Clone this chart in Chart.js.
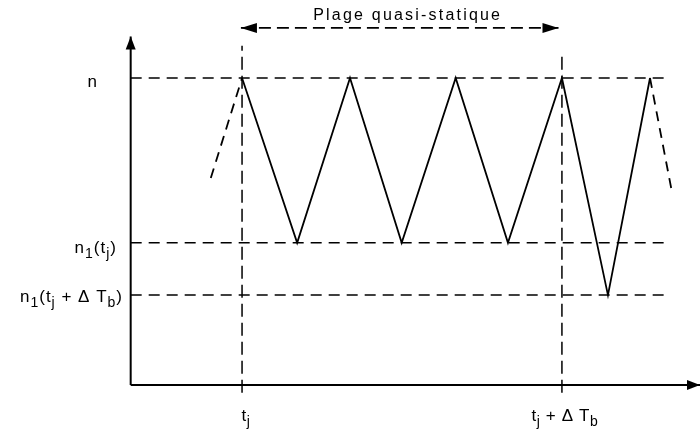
<!DOCTYPE html>
<html lang="fr">
<head>
    <meta charset="UTF-8">
    <title>Plage quasi-statique</title>
    <script src="https://cdn.jsdelivr.net/npm/chart.js"></script>
    <style>
        body { margin: 0; background: #fff; }
    </style>
</head>
<body>
    <canvas id="myChart" width="700" height="432"></canvas>
    <script>
        // Instants (x) et niveaux (y)
        const tj = 19.6;
        const tjDTb = 75.9;
        const levelN = 100;
        const levelN1tj = 46.3;
        const levelN1tjDTb = 29.3;

        // Dents de scie (trait plein)
        const sawX = [19.6, 29.3, 38.6, 47.7, 57.2, 66.4, 75.9, 84.0, 91.4];
        const sawY = [100, 46.3, 100, 46.3, 100, 46.3, 100, 29.3, 100];

        // Prolongements en tirets
        const leftDashX = [14.1, 19.6];
        const leftDashY = [67.4, 100];
        const rightDashX = [91.4, 95.3];
        const rightDashY = [100, 62.5];

        // Libellés
        const yLevels = [levelN, levelN1tj, levelN1tjDTb];
        const yLabels = ['n', 'n_1(t_j)', 'n_1(t_j + Δ T_b)'];
        const xTimes = [tj, tjDTb];
        const xLabels = ['t_j', 't_j + Δ T_b'];
        const rangeLabel = 'Plage quasi-statique';
        const rangeY = 116.3;
        const rangeFrom = 19.4;
        const rangeTo = 75.3;

        const pts = (xs, ys) => xs.map((x, i) => ({ x: x, y: ys[i] }));
        const dash = [11, 7];

        const datasets = [];
        // axes
        datasets.push({ data: [{ x: 0, y: 0 }, { x: 100.2, y: 0 }], borderWidth: 2, arrows: ['end'] });
        datasets.push({ data: [{ x: 0, y: 0 }, { x: 0, y: 113.5 }], borderWidth: 2, arrows: ['end'] });
        // niveaux horizontaux
        yLevels.forEach(v => {
            datasets.push({ data: [{ x: 0, y: v }, { x: 93.8, y: v }], borderWidth: 1.5, borderDash: dash });
        });
        // verticales
        datasets.push({ data: [{ x: tj, y: -2.5 }, { x: tj, y: 110.5 }], borderWidth: 1.5, borderDash: [13, 6] });
        datasets.push({ data: [{ x: tjDTb, y: -2.5 }, { x: tjDTb, y: 108.5 }], borderWidth: 1.5, borderDash: [13, 6] });
        // dents de scie
        datasets.push({ data: pts(sawX, sawY), borderWidth: 1.8 });
        datasets.push({ data: pts(leftDashX, leftDashY), borderWidth: 1.8, borderDash: [10, 7] });
        datasets.push({ data: pts(rightDashX, rightDashY), borderWidth: 1.8, borderDash: [10, 7] });
        // plage
        datasets.push({ data: [{ x: rangeFrom, y: rangeY }, { x: rangeTo, y: rangeY }], borderWidth: 1.7, borderDash: [12, 6], arrows: ['start', 'end'] });

        datasets.forEach(d => {
            d.borderColor = '#000';
            d.showLine = true;
            d.pointRadius = 0;
            d.fill = false;
        });

        // texte avec indices: "_x" = indice
        function drawRich(ctx, str, x, y, align, size, spacing) {
            const parts = [];
            for (let i = 0; i < str.length; i++) {
                if (str[i] === '_' && i + 1 < str.length) {
                    parts.push({ t: str[i + 1], sub: true });
                    i++;
                } else {
                    parts.push({ t: str[i], sub: false });
                }
            }
            const mainFont = size + 'px "Liberation Sans", Arial, sans-serif';
            const subFont = Math.round(size * 0.85) + 'px "Liberation Sans", Arial, sans-serif';
            let w = 0;
            parts.forEach(p => {
                ctx.font = p.sub ? subFont : mainFont;
                p.w = ctx.measureText(p.t).width + spacing;
                w += p.w;
            });
            let cx = align === 'right' ? x - w : (align === 'center' ? x - w / 2 : x);
            parts.forEach(p => {
                ctx.font = p.sub ? subFont : mainFont;
                ctx.fillText(p.t, cx, p.sub ? y + 5 : y);
                cx += p.w;
            });
        }

        // placement des libellés (pixels)
        const yLabelRight = [98, 117, 123];
        const yLabelDrop = [9, 10, 7];
        const xLabelShift = [4, 3];

        const annotPlugin = {
            id: 'annot',
            afterDatasetsDraw(chart) {
                const ctx = chart.ctx;
                const xs = chart.scales.x;
                const ys = chart.scales.y;
                ctx.save();
                ctx.fillStyle = '#000';
                // pointes de flèches
                chart.data.datasets.forEach(d => {
                    if (!d.arrows) return;
                    const p = d.data.map(q => [xs.getPixelForValue(q.x), ys.getPixelForValue(q.y)]);
                    d.arrows.forEach(which => {
                        const tip = which === 'end' ? p[p.length - 1] : p[0];
                        const from = which === 'end' ? p[p.length - 2] : p[1];
                        const a = Math.atan2(tip[1] - from[1], tip[0] - from[0]);
                        const len = d.arrows.length === 2 ? 16 : 13;
                        const half = 5;
                        ctx.beginPath();
                        ctx.moveTo(tip[0], tip[1]);
                        ctx.lineTo(tip[0] - len * Math.cos(a) + half * Math.sin(a), tip[1] - len * Math.sin(a) - half * Math.cos(a));
                        ctx.lineTo(tip[0] - len * Math.cos(a) - half * Math.sin(a), tip[1] - len * Math.sin(a) + half * Math.cos(a));
                        ctx.closePath();
                        ctx.fill();
                    });
                });
                ctx.textBaseline = 'alphabetic';
                // libellés de l'axe y
                yLevels.forEach((v, i) => {
                    drawRich(ctx, yLabels[i], yLabelRight[i], ys.getPixelForValue(v) + yLabelDrop[i], 'right', 17, 1);
                });
                // libellés de l'axe x
                xTimes.forEach((v, i) => {
                    drawRich(ctx, xLabels[i], xs.getPixelForValue(v) + xLabelShift[i], ys.getPixelForValue(0) + 36, 'center', 17, 0.6);
                });
                // titre de la plage
                ctx.font = '16px "Liberation Sans", Arial, sans-serif';
                ctx.letterSpacing = '2.2px';
                ctx.textAlign = 'center';
                ctx.fillText(rangeLabel, xs.getPixelForValue((rangeFrom + rangeTo) / 2) + 8, ys.getPixelForValue(rangeY) - 8);
                ctx.restore();
            }
        };

        const ctx = document.getElementById('myChart').getContext('2d');
        const myChart = new Chart(ctx, {
            type: 'scatter',
            data: { datasets: datasets },
            options: {
                responsive: false,
                animation: false,
                layout: { padding: 0 },
                plugins: { legend: { display: false }, tooltip: { enabled: false } },
                scales: {
                    x: { type: 'linear', display: false, min: -23, max: 100.2 },
                    y: { type: 'linear', display: false, min: -15.3, max: 125.4 }
                }
            },
            plugins: [annotPlugin]
        });
    </script>
</body>
</html>
